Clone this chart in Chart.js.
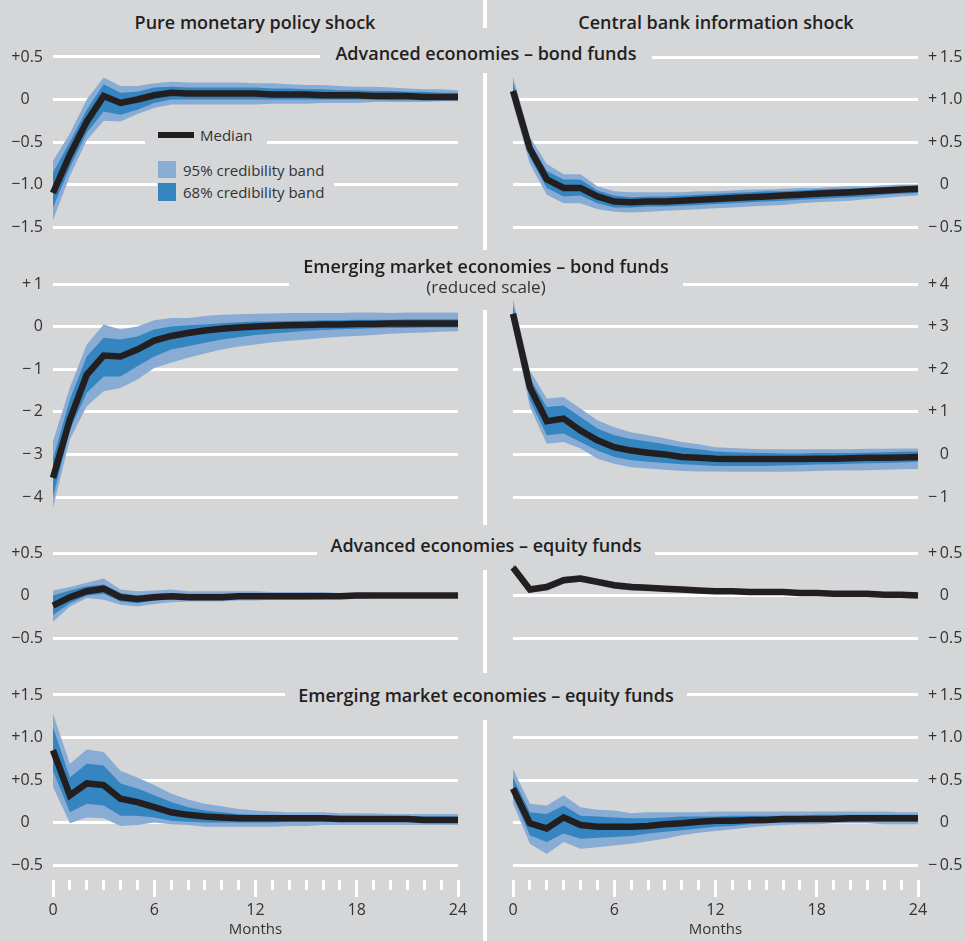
<!DOCTYPE html>
<html>
<head>
<meta charset="utf-8">
<script src="https://cdn.jsdelivr.net/npm/chart.js@4.4.1/dist/chart.umd.min.js"></script>
<style>
  html, body { margin: 0; padding: 0; background: #d5d6d8; }
  #wrap { position: relative; width: 965px; height: 941px; background: #d5d6d8; overflow: hidden;
          font-family: "Open Sans", "Noto Sans", sans-serif; color: #231f20; }
  #wrap canvas { position: absolute; z-index: 1; }
  .head { position: absolute; top: 9px; height: 26px; line-height: 26px; width: 320px; text-align: center;
          font-size: 18px; font-weight: 600; }
  .mask { position: absolute; background: #d5d6d8; z-index: 2; text-align: center; font-size: 18px; font-weight: 600; }
  .sub { font-size: 17px; font-weight: 400; color: #333; }
  .divider { position: absolute; left: 483px; width: 4px; background: #fff; }
  .lg { position: absolute; font-size: 15px; font-weight: 400; color: #333; white-space: nowrap; }
  .sw { position: absolute; }
</style>
</head>
<body>
<div id="wrap">
  <div class="head" style="left:95px;">Pure monetary policy shock</div>
  <div class="head" style="left:556px;">Central bank information shock</div>

  <div class="divider" style="top:0;height:28px;"></div>
  <div class="divider" style="top:73px;height:177px;"></div>
  <div class="divider" style="top:310px;height:215px;"></div>
  <div class="divider" style="top:570px;height:103px;"></div>
  <div class="divider" style="top:720px;height:221px;"></div>

  <div class="mask" style="left:320px;top:41px;width:332px;height:24px;line-height:24px;">Advanced economies – bond funds</div>
  <div class="mask" style="left:289px;top:254px;width:394px;height:36px;">
    <div style="height:24px;line-height:24px;">Emerging market economies – bond funds</div>
    <div class="sub" style="height:18px;line-height:18px;">(reduced scale)</div>
  </div>
  <div class="mask" style="left:317px;top:533px;width:338px;height:24px;line-height:24px;">Advanced economies – equity funds</div>
  <div class="mask" style="left:285px;top:683px;width:402px;height:25px;line-height:25px;">Emerging market economies – equity funds</div>

  <div class="mask" style="left:145px;top:125px;width:122px;height:21px;">
    <span class="sw" style="left:13px;top:7px;width:36px;height:6px;background:#231f20;"></span>
    <span class="lg" style="left:55px;top:0;line-height:20px;">Median</span>
  </div>
  <div class="mask" style="left:157px;top:158px;width:177px;height:45px;">
    <span class="sw" style="left:1px;top:3px;width:18px;height:17px;background:#8aadd6;"></span>
    <span class="lg" style="left:26px;top:2px;line-height:20px;">95% credibility band</span>
    <span class="sw" style="left:1px;top:25px;width:18px;height:18px;background:#3586c0;"></span>
    <span class="lg" style="left:26px;top:24px;line-height:20px;">68% credibility band</span>
  </div>
</div>

<script>
const months = [0, 1, 2, 3, 4, 5, 6, 7, 8, 9, 10, 11, 12, 13, 14, 15, 16, 17, 18, 19, 20, 21, 22, 23, 24];

// Advanced economies - bond funds
const pureAdvBondMed  = [-1.1, -0.65, -0.26, 0.04, -0.04, 0.0, 0.05, 0.08, 0.07, 0.07, 0.07, 0.07, 0.07, 0.06, 0.06, 0.06, 0.05, 0.05, 0.05, 0.04, 0.04, 0.04, 0.03, 0.03, 0.03];
const pureAdvBondHi68 = [-0.86, -0.5, -0.12, 0.18, 0.08, 0.09, 0.14, 0.15, 0.14, 0.14, 0.14, 0.14, 0.14, 0.13, 0.13, 0.12, 0.12, 0.11, 0.11, 0.1, 0.1, 0.09, 0.09, 0.08, 0.08];
const pureAdvBondLo68 = [-1.27, -0.8, -0.39, -0.14, -0.18, -0.12, -0.04, 0.0, 0.0, 0.0, 0.0, 0.0, 0.0, 0.0, 0.0, 0.0, 0.0, 0.0, 0.0, 0.0, -0.01, -0.01, -0.01, -0.01, -0.01];
const pureAdvBondHi95 = [-0.72, -0.4, 0.0, 0.26, 0.16, 0.16, 0.19, 0.21, 0.2, 0.2, 0.2, 0.2, 0.19, 0.19, 0.18, 0.17, 0.17, 0.16, 0.15, 0.15, 0.14, 0.13, 0.12, 0.12, 0.11];
const pureAdvBondLo95 = [-1.42, -0.9, -0.48, -0.25, -0.26, -0.17, -0.1, -0.06, -0.06, -0.06, -0.06, -0.06, -0.06, -0.05, -0.05, -0.05, -0.04, -0.04, -0.04, -0.03, -0.03, -0.03, -0.03, -0.02, -0.02];

const infoAdvBondMed  = [1.1, 0.42, 0.06, -0.04, -0.04, -0.14, -0.2, -0.21, -0.2, -0.2, -0.19, -0.18, -0.17, -0.16, -0.15, -0.14, -0.13, -0.12, -0.11, -0.1, -0.09, -0.08, -0.07, -0.06, -0.05];
const infoAdvBondHi68 = [1.2, 0.5, 0.16, 0.06, 0.06, -0.07, -0.13, -0.15, -0.14, -0.14, -0.13, -0.12, -0.11, -0.1, -0.09, -0.08, -0.08, -0.07, -0.06, -0.05, -0.05, -0.04, -0.03, -0.03, -0.02];
const infoAdvBondLo68 = [1.0, 0.32, -0.04, -0.14, -0.13, -0.22, -0.27, -0.27, -0.26, -0.26, -0.25, -0.24, -0.23, -0.22, -0.21, -0.2, -0.19, -0.18, -0.17, -0.16, -0.15, -0.14, -0.12, -0.11, -0.1];
const infoAdvBondHi95 = [1.27, 0.56, 0.24, 0.12, 0.12, -0.02, -0.08, -0.09, -0.09, -0.09, -0.09, -0.08, -0.08, -0.07, -0.06, -0.06, -0.05, -0.04, -0.04, -0.03, -0.02, -0.02, -0.01, 0.0, 0.0];
const infoAdvBondLo95 = [0.95, 0.24, -0.12, -0.22, -0.22, -0.29, -0.32, -0.33, -0.32, -0.31, -0.3, -0.29, -0.28, -0.27, -0.26, -0.25, -0.24, -0.22, -0.21, -0.2, -0.19, -0.17, -0.16, -0.14, -0.13];

// Emerging market economies - bond funds
const pureEmBondMed  = [-3.55, -2.18, -1.13, -0.68, -0.7, -0.54, -0.33, -0.22, -0.15, -0.09, -0.05, -0.02, 0.0, 0.02, 0.03, 0.04, 0.05, 0.05, 0.06, 0.06, 0.07, 0.07, 0.07, 0.07, 0.07];
const pureEmBondHi68 = [-3.1, -1.71, -0.7, -0.26, -0.3, -0.23, -0.07, 0.0, 0.03, 0.05, 0.08, 0.1, 0.12, 0.12, 0.13, 0.14, 0.15, 0.15, 0.16, 0.16, 0.16, 0.17, 0.17, 0.17, 0.17];
const pureEmBondLo68 = [-4.0, -2.42, -1.55, -1.17, -1.17, -0.93, -0.7, -0.54, -0.46, -0.38, -0.3, -0.25, -0.2, -0.16, -0.13, -0.1, -0.08, -0.06, -0.05, -0.04, -0.03, -0.03, -0.02, -0.02, -0.02];
const pureEmBondHi95 = [-2.69, -1.43, -0.42, 0.05, -0.07, 0.0, 0.15, 0.2, 0.2, 0.25, 0.28, 0.29, 0.3, 0.31, 0.32, 0.32, 0.32, 0.32, 0.33, 0.33, 0.32, 0.33, 0.33, 0.33, 0.33];
const pureEmBondLo95 = [-4.25, -2.65, -1.87, -1.52, -1.44, -1.24, -0.97, -0.85, -0.73, -0.63, -0.54, -0.47, -0.42, -0.37, -0.33, -0.3, -0.27, -0.24, -0.22, -0.2, -0.17, -0.15, -0.14, -0.12, -0.11];

const infoEmBondMed  = [3.3, 1.58, 0.78, 0.84, 0.56, 0.33, 0.17, 0.09, 0.04, 0.0, -0.06, -0.08, -0.1, -0.11, -0.11, -0.11, -0.11, -0.11, -0.1, -0.1, -0.09, -0.08, -0.08, -0.07, -0.06];
const infoEmBondHi68 = [3.5, 1.78, 1.11, 1.15, 0.88, 0.61, 0.45, 0.36, 0.3, 0.24, 0.17, 0.12, 0.07, 0.05, 0.04, 0.03, 0.02, 0.02, 0.03, 0.03, 0.03, 0.04, 0.05, 0.06, 0.07];
const infoEmBondLo68 = [3.1, 1.27, 0.45, 0.49, 0.29, 0.09, -0.06, -0.14, -0.17, -0.2, -0.23, -0.25, -0.27, -0.27, -0.27, -0.27, -0.26, -0.25, -0.24, -0.23, -0.22, -0.21, -0.2, -0.19, -0.17];
const infoEmBondHi95 = [3.65, 1.97, 1.31, 1.35, 1.08, 0.8, 0.64, 0.52, 0.45, 0.38, 0.29, 0.24, 0.17, 0.15, 0.13, 0.12, 0.12, 0.12, 0.12, 0.12, 0.12, 0.13, 0.13, 0.14, 0.14];
const infoEmBondLo95 = [3.0, 1.11, 0.25, 0.29, 0.14, -0.1, -0.22, -0.3, -0.33, -0.36, -0.39, -0.4, -0.4, -0.41, -0.41, -0.41, -0.41, -0.4, -0.39, -0.38, -0.38, -0.37, -0.36, -0.35, -0.34];

// Advanced economies - equity funds
const pureAdvEqMed  = [-0.12, -0.02, 0.05, 0.08, -0.02, -0.04, -0.02, -0.01, -0.02, -0.02, -0.02, -0.01, -0.01, -0.01, -0.01, -0.01, -0.01, -0.01, 0.0, 0.0, 0.0, 0.0, 0.0, 0.0, 0.0];
const pureAdvEqHi68 = [0.0, 0.06, 0.11, 0.13, 0.03, 0.0, 0.02, 0.03, 0.02, 0.02, 0.02, 0.02, 0.02, 0.02, 0.02, 0.01, 0.01, 0.01, 0.01, 0.01, 0.01, 0.01, 0.01, 0.01, 0.01];
const pureAdvEqLo68 = [-0.23, -0.09, 0.0, 0.02, -0.07, -0.09, -0.06, -0.04, -0.05, -0.05, -0.04, -0.04, -0.04, -0.03, -0.03, -0.03, -0.03, -0.02, -0.02, -0.02, -0.02, -0.01, -0.01, -0.01, -0.01];
const pureAdvEqHi95 = [0.06, 0.1, 0.15, 0.2, 0.07, 0.05, 0.06, 0.07, 0.05, 0.05, 0.05, 0.05, 0.05, 0.04, 0.04, 0.04, 0.04, 0.03, 0.03, 0.03, 0.03, 0.02, 0.02, 0.02, 0.02];
const pureAdvEqLo95 = [-0.31, -0.13, -0.03, -0.05, -0.11, -0.13, -0.1, -0.08, -0.07, -0.07, -0.07, -0.06, -0.06, -0.05, -0.05, -0.05, -0.04, -0.04, -0.04, -0.03, -0.03, -0.03, -0.02, -0.02, -0.02];

const infoAdvEqMed  = [0.33, 0.07, 0.1, 0.18, 0.2, 0.16, 0.12, 0.1, 0.09, 0.08, 0.07, 0.06, 0.05, 0.05, 0.04, 0.04, 0.04, 0.03, 0.03, 0.02, 0.02, 0.02, 0.01, 0.01, 0.0];
const infoAdvEqHi68 = [0.35, 0.09, 0.12, 0.2, 0.22, 0.18, 0.14, 0.12, 0.11, 0.1, 0.09, 0.08, 0.07, 0.06, 0.06, 0.05, 0.05, 0.04, 0.04, 0.03, 0.03, 0.03, 0.02, 0.02, 0.01];
const infoAdvEqLo68 = [0.31, 0.05, 0.08, 0.16, 0.18, 0.14, 0.1, 0.08, 0.07, 0.06, 0.05, 0.04, 0.04, 0.03, 0.03, 0.02, 0.02, 0.02, 0.01, 0.01, 0.01, 0.0, 0.0, 0.0, -0.01];
const infoAdvEqHi95 = [0.37, 0.11, 0.14, 0.22, 0.24, 0.2, 0.16, 0.14, 0.12, 0.11, 0.1, 0.09, 0.08, 0.07, 0.07, 0.06, 0.06, 0.05, 0.05, 0.04, 0.04, 0.03, 0.03, 0.02, 0.02];
const infoAdvEqLo95 = [0.29, 0.03, 0.06, 0.14, 0.16, 0.12, 0.08, 0.06, 0.05, 0.05, 0.04, 0.03, 0.03, 0.02, 0.02, 0.01, 0.01, 0.01, 0.0, 0.0, 0.0, -0.01, -0.01, -0.01, -0.02];

// Emerging market economies - equity funds
const pureEmEqMed  = [0.85, 0.32, 0.46, 0.44, 0.28, 0.24, 0.18, 0.12, 0.09, 0.07, 0.06, 0.05, 0.05, 0.05, 0.05, 0.05, 0.05, 0.04, 0.04, 0.04, 0.04, 0.04, 0.03, 0.03, 0.03];
const pureEmEqHi68 = [1.12, 0.53, 0.69, 0.67, 0.46, 0.4, 0.32, 0.24, 0.18, 0.14, 0.12, 0.1, 0.09, 0.09, 0.08, 0.08, 0.08, 0.08, 0.08, 0.07, 0.07, 0.07, 0.07, 0.07, 0.07];
const pureEmEqLo68 = [0.61, 0.12, 0.22, 0.2, 0.08, 0.08, 0.06, 0.02, 0.01, 0.0, 0.0, 0.0, 0.0, 0.0, 0.01, 0.01, 0.01, 0.01, 0.01, 0.01, 0.01, 0.01, 0.0, 0.0, 0.0];
const pureEmEqHi95 = [1.28, 0.69, 0.86, 0.83, 0.61, 0.53, 0.44, 0.34, 0.27, 0.22, 0.19, 0.16, 0.14, 0.13, 0.12, 0.12, 0.12, 0.11, 0.11, 0.11, 0.1, 0.1, 0.1, 0.1, 0.1];
const pureEmEqLo95 = [0.42, -0.01, 0.06, 0.05, -0.04, -0.03, 0.0, -0.02, -0.03, -0.05, -0.05, -0.05, -0.05, -0.05, -0.04, -0.04, -0.03, -0.03, -0.03, -0.03, -0.03, -0.03, -0.03, -0.03, -0.03];

const infoEmEqMed  = [0.4, -0.01, -0.07, 0.06, -0.03, -0.05, -0.05, -0.05, -0.04, -0.02, -0.01, 0.01, 0.02, 0.02, 0.03, 0.03, 0.04, 0.04, 0.04, 0.04, 0.05, 0.05, 0.05, 0.05, 0.05];
const infoEmEqHi68 = [0.53, 0.12, 0.1, 0.2, 0.08, 0.07, 0.06, 0.05, 0.05, 0.06, 0.07, 0.07, 0.07, 0.08, 0.08, 0.08, 0.08, 0.08, 0.09, 0.09, 0.09, 0.09, 0.09, 0.09, 0.09];
const infoEmEqLo68 = [0.3, -0.15, -0.23, -0.13, -0.19, -0.18, -0.17, -0.16, -0.13, -0.11, -0.09, -0.07, -0.05, -0.04, -0.02, -0.01, 0.0, 0.0, 0.01, 0.01, 0.01, 0.01, 0.01, 0.01, 0.01];
const infoEmEqHi95 = [0.63, 0.22, 0.2, 0.32, 0.18, 0.15, 0.14, 0.11, 0.12, 0.12, 0.12, 0.12, 0.13, 0.13, 0.13, 0.13, 0.13, 0.13, 0.13, 0.13, 0.13, 0.13, 0.13, 0.12, 0.12];
const infoEmEqLo95 = [0.22, -0.25, -0.37, -0.23, -0.31, -0.29, -0.27, -0.25, -0.22, -0.19, -0.15, -0.12, -0.1, -0.08, -0.06, -0.04, -0.03, -0.02, -0.02, -0.01, -0.01, -0.01, -0.02, -0.02, -0.02];

// y tick values (top to bottom) and their labels
const advBondLeftTicks   = [0.5, 0, -0.5, -1, -1.5];
const advBondLeftLabels  = ["+0.5", "0\u2008\u2007", "\u22120.5", "\u22121.0", "\u22121.5"];
const advBondRightTicks  = [1.5, 1, 0.5, 0, -0.5];
const advBondRightLabels = ["+\u20091.5", "+\u20091.0", "+\u20090.5", "\u2007\u20090", "\u2212\u20090.5"];
const emBondLeftTicks    = [1, 0, -1, -2, -3, -4];
const emBondLeftLabels   = ["+\u20091", "0", "\u2212\u20091", "\u2212\u20092", "\u2212\u20093", "\u2212\u20094"];
const emBondRightTicks   = [4, 3, 2, 1, 0, -1];
const emBondRightLabels  = ["+\u20094", "+\u20093", "+\u20092", "+\u20091", "\u2007\u20090", "\u2212\u20091"];
const advEqLeftTicks     = [0.5, 0, -0.5];
const advEqLeftLabels    = ["+0.5", "0\u2008\u2007", "\u22120.5"];
const advEqRightTicks    = [0.5, 0, -0.5];
const advEqRightLabels   = ["+\u20090.5", "\u2007\u20090", "\u2212\u20090.5"];
const emEqLeftTicks      = [1.5, 1, 0.5, 0, -0.5];
const emEqLeftLabels     = ["+1.5", "+1.0", "+0.5", "0\u2008\u2007", "\u22120.5"];
const emEqRightTicks     = [1.5, 1, 0.5, 0, -0.5];
const emEqRightLabels    = ["+\u20091.5", "+\u20091.0", "+\u20090.5", "\u2007\u20090", "\u2212\u20090.5"];

const C95 = "#89acd5", C68 = "#3585c0", MED = "#231f20", GRID = "#ffffff", INK = "#333333";
const FONT = '"Open Sans", "Noto Sans", sans-serif';

// pixel layout of each row: first/last gridline, margins, x axis block
const rows = [
  { top: 57, bot: 227, padTop: 16, padBot: 14 },
  { top: 284, bot: 497, padTop: 16, padBot: 14 },
  { top: 553, bot: 638, padTop: 16, padBot: 14 },
  { top: 695, bot: 865, padTop: 16, areaBottom: 880, axis: 61 }
];

const panels = [
  { row: 0, side: "left",  ticks: advBondLeftTicks,  labels: advBondLeftLabels,  s: [pureAdvBondMed, pureAdvBondHi68, pureAdvBondLo68, pureAdvBondHi95, pureAdvBondLo95] },
  { row: 0, side: "right", ticks: advBondRightTicks, labels: advBondRightLabels, s: [infoAdvBondMed, infoAdvBondHi68, infoAdvBondLo68, infoAdvBondHi95, infoAdvBondLo95] },
  { row: 1, side: "left",  ticks: emBondLeftTicks,   labels: emBondLeftLabels,   s: [pureEmBondMed, pureEmBondHi68, pureEmBondLo68, pureEmBondHi95, pureEmBondLo95] },
  { row: 1, side: "right", ticks: emBondRightTicks,  labels: emBondRightLabels,  s: [infoEmBondMed, infoEmBondHi68, infoEmBondLo68, infoEmBondHi95, infoEmBondLo95] },
  { row: 2, side: "left",  ticks: advEqLeftTicks,    labels: advEqLeftLabels,    s: [pureAdvEqMed, pureAdvEqHi68, pureAdvEqLo68, pureAdvEqHi95, pureAdvEqLo95] },
  { row: 2, side: "right", ticks: advEqRightTicks,   labels: advEqRightLabels,   s: [infoAdvEqMed, infoAdvEqHi68, infoAdvEqLo68, infoAdvEqHi95, infoAdvEqLo95] },
  { row: 3, side: "left",  ticks: emEqLeftTicks,     labels: emEqLeftLabels,     s: [pureEmEqMed, pureEmEqHi68, pureEmEqLo68, pureEmEqHi95, pureEmEqLo95] },
  { row: 3, side: "right", ticks: emEqRightTicks,    labels: emEqRightLabels,    s: [infoEmEqMed, infoEmEqHi68, infoEmEqLo68, infoEmEqHi95, infoEmEqLo95] }
];

// longer white ticks every 6 months
const majorTicks = {
  id: "majorTicks",
  afterDraw(chart) {
    const x = chart.scales.x, ctx = chart.ctx, b = chart.chartArea.bottom;
    ctx.save();
    ctx.strokeStyle = GRID;
    ctx.lineWidth = 3;
    months.forEach((m, i) => {
      if (m % 6 !== 0) return;
      const px = Math.round(x.getPixelForValue(i) - 1.5) + 1.5;
      ctx.beginPath();
      ctx.moveTo(px, b);
      ctx.lineTo(px, b + 17);
      ctx.stroke();
    });
    ctx.restore();
  }
};

function band(data, fill, color) {
  return { data: data, fill: fill, backgroundColor: color || "transparent", borderColor: "transparent",
           borderWidth: 0, pointRadius: 0, tension: 0 };
}

function makePanel(p) {
  const r = rows[p.row];
  const left = p.side === "left";
  const tMax = p.ticks[0], tMin = p.ticks[p.ticks.length - 1];
  const ppu = (r.bot - r.top) / (tMax - tMin);
  const areaTop = r.top - r.padTop;
  const areaBot = r.areaBottom || (r.bot + r.padBot);
  const w = left ? 475 : 469;
  const h = areaBot - areaTop + (r.axis || 0);

  const canvas = document.createElement("canvas");
  canvas.width = w;
  canvas.height = h;
  canvas.style.left = (left ? 0 : 496) + "px";
  canvas.style.top = areaTop + "px";
  canvas.style.width = w + "px";
  canvas.style.height = h + "px";
  document.getElementById("wrap").appendChild(canvas);

  new Chart(canvas, {
    type: "line",
    data: {
      labels: months,
      datasets: [
        { data: p.s[0], borderColor: MED, borderWidth: 6.5, pointRadius: 0, fill: false, tension: 0,
          borderJoinStyle: "miter", borderCapStyle: "butt" },
        band(p.s[1], "+1", C68),
        band(p.s[2], false),
        band(p.s[3], "+1", C95),
        band(p.s[4], false)
      ]
    },
    options: {
      responsive: false,
      animation: false,
      events: [],
      layout: { padding: left ? { right: 17 } : { left: 17 } },
      plugins: { legend: { display: false }, tooltip: { enabled: false } },
      scales: {
        x: {
          display: !!r.axis,
          grid: { drawOnChartArea: false, drawTicks: true, tickLength: 10, tickWidth: 3, tickColor: GRID, color: GRID },
          border: { display: false },
          ticks: {
            autoSkip: false, maxRotation: 0, padding: 11, color: INK,
            font: { family: FONT, size: 16 },
            callback: (v, i) => (months[i] % 6 === 0 ? String(months[i]) : "")
          },
          title: { display: true, text: "Months", color: INK, font: { family: FONT, size: 15 }, padding: { top: 0, bottom: 2 } },
          afterFit: s => {
            if (r.axis) s.height = r.axis;
            s.paddingLeft = 0;
            s.paddingRight = 0;
          }
        },
        y: {
          position: left ? "left" : "right",
          min: tMin - (areaBot - r.bot) / ppu,
          max: tMax + r.padTop / ppu,
          afterBuildTicks: s => { s.ticks = p.ticks.map(v => ({ value: v })); },
          grid: { color: GRID, lineWidth: 3, drawTicks: false },
          border: { display: false },
          ticks: {
            autoSkip: false, padding: 10, color: INK,
            font: { family: FONT, size: 16 },
            callback: (v, i) => p.labels[i]
          },
          afterFit: s => {
            s.width = left ? 53 : 47;
            s.paddingTop = 0;
            s.paddingBottom = 0;
          }
        }
      }
    },
    plugins: r.axis ? [majorTicks] : []
  });
}

panels.forEach(makePanel);
</script>
</body>
</html>
